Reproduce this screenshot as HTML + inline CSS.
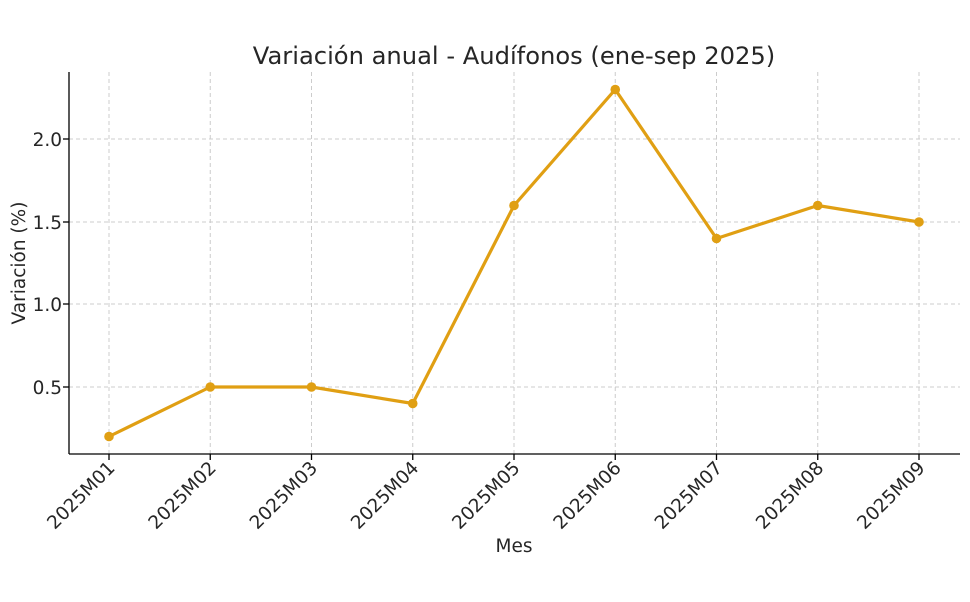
<!DOCTYPE html>
<html><head><meta charset="utf-8"><style>
body{margin:0;background:#fff;}
svg{display:block;font-family:"DejaVu Sans","Liberation Sans",sans-serif;}
</style></head><body>
<svg width="970" height="602" viewBox="0 0 970 602" xmlns="http://www.w3.org/2000/svg">
<rect width="970" height="602" fill="#fff"/>
<text x="514" y="64" font-size="24.2" text-anchor="middle" fill="#262626">Variación anual - Audífonos (ene-sep 2025)</text>
<g stroke="#cccccc" stroke-width="1" stroke-dasharray="4,3">
<line x1="109" y1="72" x2="109" y2="454"/><line x1="210.25" y1="72" x2="210.25" y2="454"/>
<line x1="311.5" y1="72" x2="311.5" y2="454"/><line x1="412.75" y1="72" x2="412.75" y2="454"/>
<line x1="514" y1="72" x2="514" y2="454"/><line x1="615.25" y1="72" x2="615.25" y2="454"/>
<line x1="716.5" y1="72" x2="716.5" y2="454"/><line x1="817.75" y1="72" x2="817.75" y2="454"/>
<line x1="919" y1="72" x2="919" y2="454"/>
<line x1="69" y1="139" x2="960" y2="139"/><line x1="69" y1="222" x2="960" y2="222"/>
<line x1="69" y1="304" x2="960" y2="304"/><line x1="69" y1="387" x2="960" y2="387"/>
</g>
<g stroke="#000" stroke-width="1.3">
<line x1="69" y1="72" x2="69" y2="454"/><line x1="69" y1="454" x2="960" y2="454"/>
<line x1="63" y1="139" x2="69" y2="139"/><line x1="63" y1="222" x2="69" y2="222"/>
<line x1="63" y1="304" x2="69" y2="304"/><line x1="63" y1="387" x2="69" y2="387"/>
</g>
<g font-size="18.5" fill="#262626" text-anchor="end">
<text x="62" y="146">2.0</text><text x="62" y="229">1.5</text><text x="62" y="311">1.0</text><text x="62" y="394">0.5</text>
</g>
<g stroke="#000" stroke-width="1.3">
<line x1="109" y1="454" x2="109" y2="460"/><line x1="210.25" y1="454" x2="210.25" y2="460"/>
<line x1="311.5" y1="454" x2="311.5" y2="460"/><line x1="412.75" y1="454" x2="412.75" y2="460"/>
<line x1="514" y1="454" x2="514" y2="460"/><line x1="615.25" y1="454" x2="615.25" y2="460"/>
<line x1="716.5" y1="454" x2="716.5" y2="460"/><line x1="817.75" y1="454" x2="817.75" y2="460"/>
<line x1="919" y1="454" x2="919" y2="460"/>
</g>
<g font-size="18.5" fill="#262626" text-anchor="end">
<text transform="translate(116,469) rotate(-45)">2025M01</text>
<text transform="translate(217.25,469) rotate(-45)">2025M02</text>
<text transform="translate(318.5,469) rotate(-45)">2025M03</text>
<text transform="translate(419.75,469) rotate(-45)">2025M04</text>
<text transform="translate(521,469) rotate(-45)">2025M05</text>
<text transform="translate(622.25,469) rotate(-45)">2025M06</text>
<text transform="translate(723.5,469) rotate(-45)">2025M07</text>
<text transform="translate(824.75,469) rotate(-45)">2025M08</text>
<text transform="translate(926,469) rotate(-45)">2025M09</text>
</g>
<text x="514" y="552" font-size="18.5" text-anchor="middle" fill="#262626">Mes</text>
<text transform="translate(25,263) rotate(-90)" font-size="18.5" text-anchor="middle" fill="#262626">Variación (%)</text>
<polyline fill="none" stroke="#E09F13" stroke-width="3.2" stroke-linejoin="round"
points="109,436.5 210.25,387 311.5,387 412.75,403.5 514,205.5 615.25,89.5 716.5,238.5 817.75,205.5 919,222"/>
<g fill="#E09F13">
<circle cx="109" cy="436.5" r="4.8"/><circle cx="210.25" cy="387" r="4.8"/><circle cx="311.5" cy="387" r="4.8"/>
<circle cx="412.75" cy="403.5" r="4.8"/><circle cx="514" cy="205.5" r="4.8"/><circle cx="615.25" cy="89.5" r="4.8"/>
<circle cx="716.5" cy="238.5" r="4.8"/><circle cx="817.75" cy="205.5" r="4.8"/><circle cx="919" cy="222" r="4.8"/>
</g>
</svg>
</body></html>
